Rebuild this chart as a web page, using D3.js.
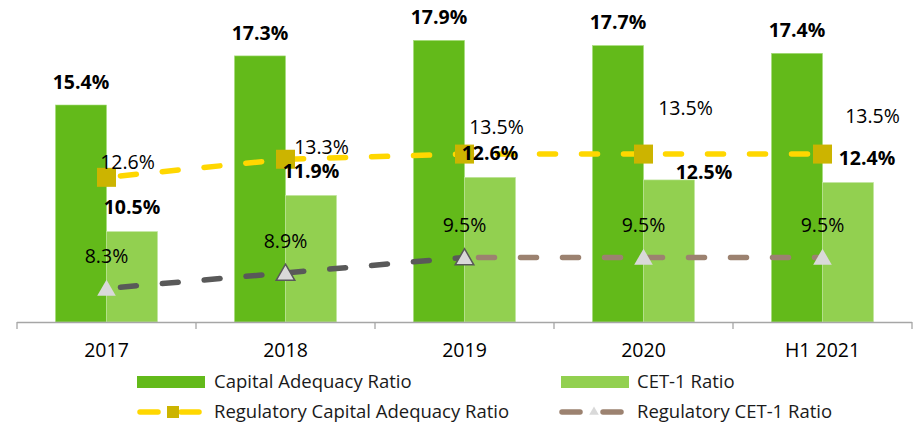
<!DOCTYPE html>
<html>
<head>
<meta charset="utf-8">
<script src="https://cdn.jsdelivr.net/npm/d3@7/dist/d3.min.js"></script>
<style>
  body { margin: 0; background: #fff; }
  svg { font-family: "Open Sans", "Noto Sans", sans-serif; }
  .lbl { font-size: 19.5px; fill: #000; }
  .lbl.b { font-weight: bold; }
  .axis text { font-size: 19.5px; fill: #000; }
  .legend text { font-size: 18.5px; fill: #1a1a1a; }
</style>
</head>
<body>
<svg id="grafico" width="916" height="424"></svg>
<script>
"use strict"
var categorias = ["2017", "2018", "2019", "2020", "H1 2021"];
var car = [15.4, 17.3, 17.9, 17.7, 17.4];
var cet1 = [10.5, 11.9, 12.6, 12.5, 12.4];
var regCar = [12.6, 13.3, 13.5, 13.5, 13.5];
var regCet1 = [8.3, 8.9, 9.5, 9.5, 9.5];
var nomes = ["Capital Adequacy Ratio", "CET-1 Ratio", "Regulatory Capital Adequacy Ratio", "Regulatory CET-1 Ratio"];

// deslocamentos manuais dos rótulos (como no original)
var offRegCar = [[21, -15], [36, -12], [32, -27], [42, -46], [50, -38]];
var offCet1 = [[0, -24], [0, -24], [0, -24], [35, -8], [19, -24]];

var svg = d3.select("svg#grafico"),
    width = +svg.attr("width"),
    height = +svg.attr("height");

var VERDE = "#63ba1a", VERDE_CLARO = "#92d050", AMARELO = "#ffd700", QUADRADO = "#ccb400",
    CINZA = "#595959", MARROM = "#9c8270", TRI = "#d9d9d9";

var x = d3.scaleBand().domain(categorias).range([17, 912]).padding(0);
var bw = x.bandwidth();
var x1 = d3.scaleBand().domain(["car", "cet1"]).range([bw / 2 - bw * 0.285, bw / 2 + bw * 0.285]);
var y = d3.scaleLinear().domain([7, 19]).range([322, 12]);
var cx = function(i) { return x(categorias[i]) + bw / 2; };

// barras
var dados = categorias.map(function(c, i) { return {c: c, i: i, car: car[i], cet1: cet1[i]}; });

var grupos = svg.append("g").attr("class", "barras")
  .selectAll("g").data(dados).enter().append("g")
    .attr("transform", function(d) { return "translate(" + x(d.c) + ",0)"; });

grupos.append("rect")
    .attr("x", x1("car")).attr("width", x1.bandwidth())
    .attr("y", function(d) { return y(d.car); })
    .attr("height", function(d) { return y(7) - y(d.car); })
    .attr("fill", VERDE).attr("stroke", "#a6dc7a").attr("stroke-width", 0.6);

grupos.append("rect")
    .attr("x", x1("cet1")).attr("width", x1.bandwidth())
    .attr("y", function(d) { return y(d.cet1); })
    .attr("height", function(d) { return y(7) - y(d.cet1); })
    .attr("fill", VERDE_CLARO).attr("stroke", "#c2e6a0").attr("stroke-width", 0.6);

// eixo
var eixo = svg.append("g").attr("class", "axis");
eixo.append("line").attr("x1", x.range()[0]).attr("x2", x.range()[1])
    .attr("y1", y(7) + 0.5).attr("y2", y(7) + 0.5).attr("stroke", "#a6a6a6").attr("stroke-width", 1.3);
var limites = categorias.map(function(c) { return x(c); }).concat([x.range()[1]]);
eixo.selectAll("line.tick").data(limites).enter().append("line").attr("class", "tick")
    .attr("x1", function(d) { return d; }).attr("x2", function(d) { return d; })
    .attr("y1", y(7)).attr("y2", y(7) + 7).attr("stroke", "#a6a6a6").attr("stroke-width", 1.3);
eixo.selectAll("text").data(categorias).enter().append("text")
    .attr("x", function(d) { return x(d) + bw / 2; })
    .attr("y", 350).attr("dy", "0.35em").attr("text-anchor", "middle")
    .text(function(d) { return d; });

// linhas
var linha = d3.line()
    .x(function(d) { return cx(d.i); })
    .y(function(d) { return y(d.v); });

var ptsCar = regCar.map(function(v, i) { return {i: i, v: v}; });
var ptsCet = regCet1.map(function(v, i) { return {i: i, v: v}; });

svg.append("path").datum(ptsCar).attr("d", linha)
    .attr("fill", "none").attr("stroke", AMARELO).attr("stroke-width", 5.5)
    .attr("stroke-linecap", "round").attr("stroke-dasharray", "16,26").attr("stroke-dashoffset", -14);

svg.append("path").datum(ptsCet.slice(0, 3)).attr("d", linha)
    .attr("fill", "none").attr("stroke", CINZA).attr("stroke-width", 5.5)
    .attr("stroke-linecap", "round").attr("stroke-dasharray", "16,26").attr("stroke-dashoffset", -14);
svg.append("path").datum(ptsCet.slice(2)).attr("d", linha)
    .attr("fill", "none").attr("stroke", MARROM).attr("stroke-width", 5.5)
    .attr("stroke-linecap", "round").attr("stroke-dasharray", "16,26").attr("stroke-dashoffset", -14);

// marcadores
var tri = d3.symbol().type(d3.symbolTriangle).size(150);
svg.append("g").selectAll("path").data(ptsCet).enter().append("path")
    .attr("d", tri)
    .attr("transform", function(d) { return "translate(" + cx(d.i) + "," + (y(d.v) + 2) + ")"; })
    .attr("fill", TRI)
    .attr("stroke", function(d) { return (d.i == 1 || d.i == 2) ? CINZA : "none"; })
    .attr("stroke-width", 1.5);

svg.append("g").selectAll("rect").data(ptsCar).enter().append("rect")
    .attr("x", function(d) { return cx(d.i) - 9.5; })
    .attr("y", function(d) { return y(d.v) - 9.5; })
    .attr("width", 19).attr("height", 19).attr("fill", QUADRADO);

// rótulos
var fmt = function(v) { return v.toFixed(1) + "%"; };
var rot = svg.append("g");

rot.selectAll("text.car").data(dados).enter().append("text").attr("class", "lbl b")
    .attr("x", function(d) { return x(d.c) + x1("car") + x1.bandwidth() / 2; })
    .attr("y", function(d) { return y(d.car) - 23; })
    .attr("dy", "0.35em").attr("text-anchor", "middle")
    .text(function(d) { return fmt(d.car); });

rot.selectAll("text.cet").data(dados).enter().append("text").attr("class", "lbl b")
    .attr("x", function(d) { return x(d.c) + x1("cet1") + x1.bandwidth() / 2 + offCet1[d.i][0]; })
    .attr("y", function(d) { return y(d.cet1) + offCet1[d.i][1]; })
    .attr("dy", "0.35em").attr("text-anchor", "middle")
    .text(function(d) { return fmt(d.cet1); });

rot.selectAll("text.rcar").data(ptsCar).enter().append("text").attr("class", "lbl")
    .attr("x", function(d) { return cx(d.i) + offRegCar[d.i][0]; })
    .attr("y", function(d) { return y(d.v) + offRegCar[d.i][1]; })
    .attr("dy", "0.35em").attr("text-anchor", "middle")
    .text(function(d) { return fmt(d.v); });

rot.selectAll("text.rcet").data(ptsCet).enter().append("text").attr("class", "lbl")
    .attr("x", function(d) { return cx(d.i); })
    .attr("y", function(d) { return y(d.v) - 32; })
    .attr("dy", "0.35em").attr("text-anchor", "middle")
    .text(function(d) { return fmt(d.v); });

// legenda
var leg = svg.append("g").attr("class", "legend");
var colX = [137, 559], linY = [382, 412];

leg.append("rect").attr("x", colX[0]).attr("y", linY[0] - 6).attr("width", 68).attr("height", 12).attr("fill", VERDE);
leg.append("rect").attr("x", colX[1] + 2).attr("y", linY[0] - 6).attr("width", 68).attr("height", 12).attr("fill", VERDE_CLARO);

function legLinha(x0, yy, cor) {
  leg.append("line").attr("x1", x0 + 3).attr("x2", x0 + 21).attr("y1", yy).attr("y2", yy)
      .attr("stroke", cor).attr("stroke-width", 5.5).attr("stroke-linecap", "round");
  leg.append("line").attr("x1", x0 + 44).attr("x2", x0 + 62).attr("y1", yy).attr("y2", yy)
      .attr("stroke", cor).attr("stroke-width", 5.5).attr("stroke-linecap", "round");
}
legLinha(colX[0], linY[1], AMARELO);
leg.append("rect").attr("x", colX[0] + 30).attr("y", linY[1] - 6).attr("width", 12).attr("height", 12).attr("fill", QUADRADO);
legLinha(colX[1], linY[1], MARROM);
leg.append("path").attr("d", d3.symbol().type(d3.symbolTriangle).size(40))
    .attr("transform", "translate(" + (colX[1] + 35) + "," + linY[1] + ")").attr("fill", TRI);

leg.selectAll("text").data(nomes).enter().append("text")
    .attr("x", function(d, i) { return i % 2 == 0 ? 214 : 637; })
    .attr("y", function(d, i) { return linY[Math.floor(i / 2)]; })
    .attr("dy", "0.35em")
    .text(function(d) { return d; });
</script>
</body>
</html>
